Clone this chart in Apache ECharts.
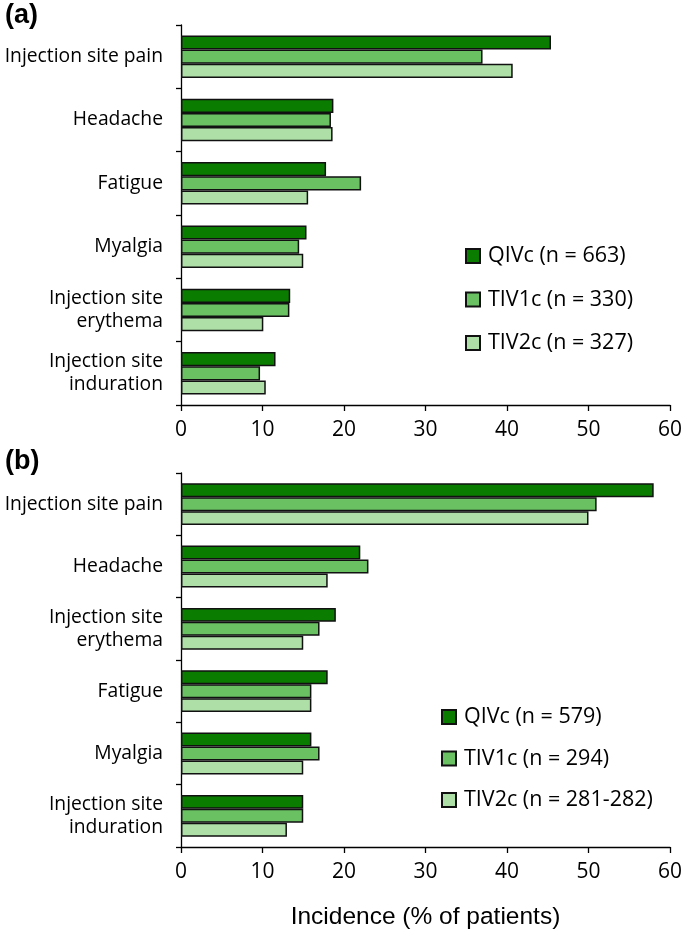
<!DOCTYPE html>
<html><head><meta charset="utf-8">
<script src="https://cdn.jsdelivr.net/npm/echarts@6/dist/echarts.min.js"></script>
<style>html,body{margin:0;padding:0;background:#fff}#c{width:685px;height:931px}</style>
</head><body><div id="c"></div>
<script>
const categoriesA = ['Injection site pain','Headache','Fatigue','Myalgia','Injection site\nerythema','Injection site\ninduration'];
const categoriesB = ['Injection site pain','Headache','Injection site\nerythema','Fatigue','Myalgia','Injection site\ninduration'];
const namesA = ['QIVc (n = 663)','TIV1c (n = 330)','TIV2c (n = 327)'];
const namesB = ['QIVc (n = 579)','TIV1c (n = 294)','TIV2c (n = 281-282)'];
const qivcA = [45.4, 18.7, 17.8, 15.4, 13.4, 11.6];
const tiv1cA = [37.0, 18.4, 22.1, 14.5, 13.3, 9.7];
const tiv2cA = [40.7, 18.6, 15.6, 15.0, 10.1, 10.4];
const qivcB = [58, 22, 19, 18, 16, 15];
const tiv1cB = [51, 23, 17, 16, 17, 15];
const tiv2cB = [50, 18, 15, 16, 15, 13];
const xTicks = [0, 10, 20, 30, 40, 50, 60];

const colors = ['#0a7d00', '#69c162', '#addfa7'];
const font = '"Open Sans", sans-serif';
const chart = echarts.init(document.getElementById('c'));

function xAxis(idx, showName) {
  return {
    type: 'value', gridIndex: idx, min: xTicks[0], max: xTicks[xTicks.length-1], interval: 10,
    axisLine: {show: true, lineStyle: {color: '#000', width: 1.3}},
    axisTick: {show: true, length: 6, lineStyle: {color: '#000', width: 1.3}},
    splitLine: {show: false},
    axisLabel: {color: '#000', fontSize: 21, fontFamily: font, margin: 15},
    name: showName ? 'Incidence (% of patients)' : '',
    nameLocation: 'middle', nameGap: 58,
    nameTextStyle: {color: '#000', fontSize: 24.5, fontFamily: '"Liberation Sans", Arial, sans-serif'}
  };
}
function yAxis(idx, cats) {
  return {
    type: 'category', gridIndex: idx, data: cats, inverse: true,
    axisLine: {show: true, lineStyle: {color: '#000', width: 1.3}},
    axisTick: {show: true, length: 5, lineStyle: {color: '#000', width: 1.3}},
    axisLabel: {color: '#000', fontSize: 19.3, fontFamily: font, margin: 18, lineHeight: 23, align: 'right'}
  };
}
const series = [];
[[qivcA, tiv1cA, tiv2cA], [qivcB, tiv1cB, tiv2cB]].forEach((set, gi) => {
  const names = gi === 0 ? namesA : namesB;
  set.forEach((d, si) => {
    series.push({
      type: 'bar', name: names[si], data: d, xAxisIndex: gi, yAxisIndex: gi,
      barGap: '0%', barCategoryGap: '33%',
      itemStyle: {color: colors[si], borderColor: '#111', borderWidth: 1.5},
      emphasis: {disabled: true}, animation: false
    });
  });
});
const legendText = {fontSize: 21.5, color: '#000', fontFamily: font, padding: [0, 0, 0, 3]};
chart.setOption({
  animation: false,
  title: [
    {text: '(a)', left: 0, top: -3, textStyle: {fontSize: 27, fontWeight: 'bold', color: '#000', fontFamily: '"Liberation Sans", Arial, sans-serif'}},
    {text: '(b)', left: 0, top: 443, textStyle: {fontSize: 27, fontWeight: 'bold', color: '#000', fontFamily: '"Liberation Sans", Arial, sans-serif'}}
  ],
  grid: [
    {left: 181, right: 13, top: 25, bottom: 526},
    {left: 181, right: 13, top: 473, bottom: 79}
  ],
  xAxis: [xAxis(0, false), xAxis(1, true)],
  yAxis: [yAxis(0, categoriesA), yAxis(1, categoriesB)],
  legend: [
    {data: namesA, orient: 'vertical', left: 465, top: 245, padding: 0, itemWidth: 14, itemHeight: 14, itemGap: 21.5,
     icon: 'rect', selectedMode: false, textStyle: legendText},
    {data: namesB, orient: 'vertical', left: 441, top: 706, padding: 0, itemWidth: 14, itemHeight: 14, itemGap: 19.5,
     icon: 'rect', selectedMode: false, textStyle: legendText}
  ],
  series: series
});
</script></body></html>
